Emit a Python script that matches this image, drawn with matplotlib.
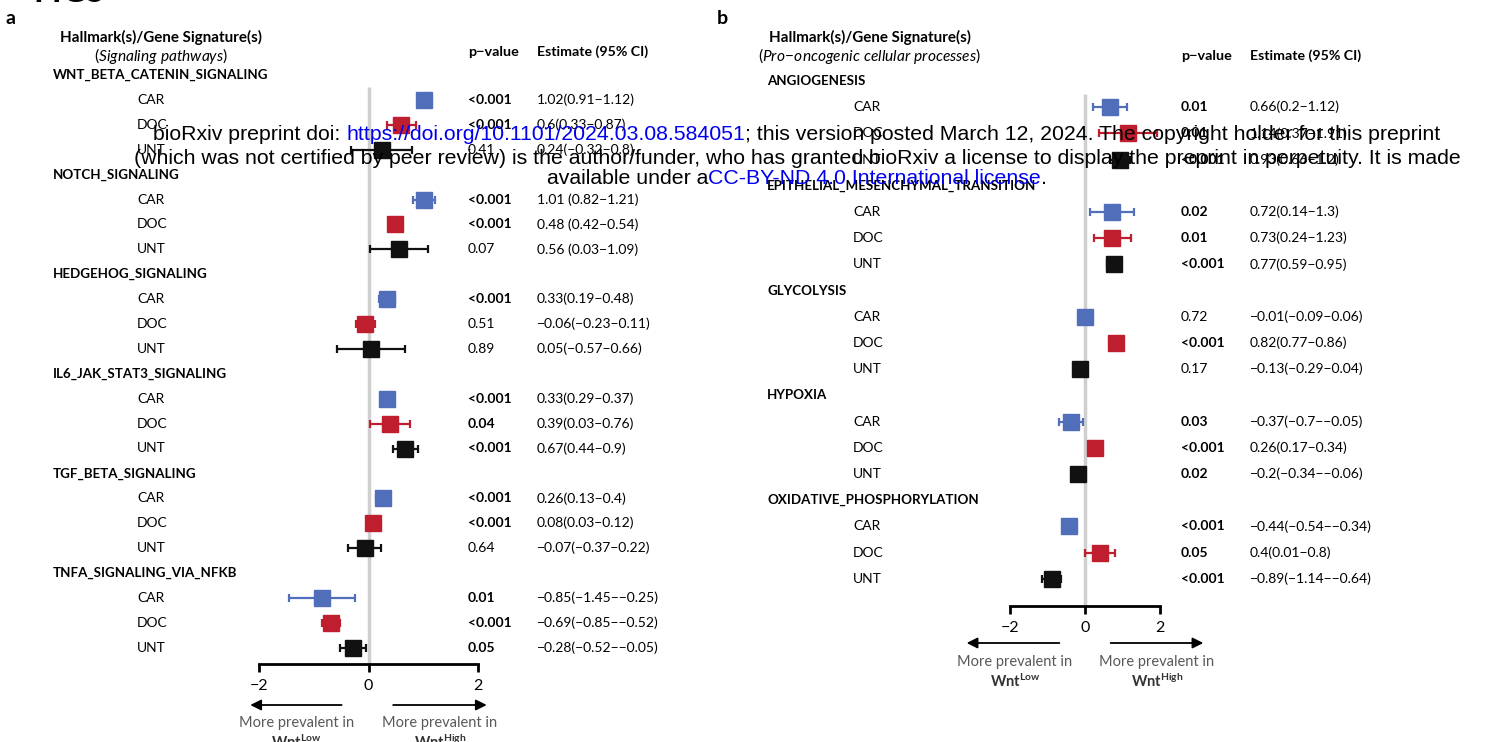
import matplotlib
matplotlib.use("Agg")
import matplotlib.pyplot as plt
from matplotlib import transforms

W, H = 1495, 742
plt.rcParams['font.family'] = ['Lato', 'DejaVu Sans']
plt.rcParams['mathtext.fontset'] = 'custom'
plt.rcParams['mathtext.rm'] = 'Lato'
plt.rcParams['mathtext.it'] = 'Lato:italic'
plt.rcParams['mathtext.bf'] = 'Lato:bold'

TREAT = ["CAR", "DOC", "UNT"]
COLORS = {"CAR": "#506EB9", "DOC": "#BE1E2D", "UNT": "#111111"}
MS = {"CAR": 11, "DOC": 11.5, "UNT": 12}

# --- panel a: signaling pathways ---
groups_a = ["WNT_BETA_CATENIN_SIGNALING", "NOTCH_SIGNALING", "HEDGEHOG_SIGNALING",
            "IL6_JAK_STAT3_SIGNALING", "TGF_BETA_SIGNALING", "TNFA_SIGNALING_VIA_NFKB"]
est_a = [1.02, 0.60, 0.24, 1.01, 0.48, 0.56, 0.33, -0.06, 0.05,
         0.33, 0.39, 0.67, 0.26, 0.08, -0.07, -0.85, -0.69, -0.28]
lo_a = [0.91, 0.33, -0.32, 0.82, 0.42, 0.03, 0.19, -0.23, -0.57,
        0.29, 0.03, 0.44, 0.13, 0.03, -0.37, -1.45, -0.85, -0.52]
hi_a = [1.12, 0.87, 0.80, 1.21, 0.54, 1.09, 0.48, 0.11, 0.66,
        0.37, 0.76, 0.90, 0.40, 0.12, 0.22, -0.25, -0.52, -0.05]
p_a = ["<0.001", "<0.001", "0.41", "<0.001", "<0.001", "0.07", "<0.001", "0.51", "0.89",
       "<0.001", "0.04", "<0.001", "<0.001", "<0.001", "0.64", "0.01", "<0.001", "0.05"]
ci_a = ["1.02(0.91\u22121.12)", "0.6(0.33\u22120.87)", "0.24(\u22120.32\u22120.8)",
        "1.01 (0.82\u22121.21)", "0.48 (0.42\u22120.54)", "0.56 (0.03\u22121.09)",
        "0.33(0.19\u22120.48)", "\u22120.06(\u22120.23\u22120.11)", "0.05(\u22120.57\u22120.66)",
        "0.33(0.29\u22120.37)", "0.39(0.03\u22120.76)", "0.67(0.44\u22120.9)",
        "0.26(0.13\u22120.4)", "0.08(0.03\u22120.12)", "\u22120.07(\u22120.37\u22120.22)",
        "\u22120.85(\u22121.45\u2212\u22120.25)", "\u22120.69(\u22120.85\u2212\u22120.52)",
        "\u22120.28(\u22120.52\u2212\u22120.05)"]

# --- panel b: pro-oncogenic cellular processes ---
groups_b = ["ANGIOGENESIS", "EPITHELIAL_MESENCHYMAL_TRANSITION", "GLYCOLYSIS",
            "HYPOXIA", "OXIDATIVE_PHOSPHORYLATION"]
est_b = [0.66, 1.14, 0.93, 0.72, 0.73, 0.77, -0.01, 0.82, -0.13,
         -0.37, 0.26, -0.20, -0.44, 0.40, -0.89]
lo_b = [0.20, 0.37, 0.66, 0.14, 0.24, 0.59, -0.09, 0.77, -0.29,
        -0.70, 0.17, -0.34, -0.54, 0.01, -1.14]
hi_b = [1.12, 1.91, 1.20, 1.30, 1.23, 0.95, 0.06, 0.86, 0.04,
        -0.05, 0.34, -0.06, -0.34, 0.80, -0.64]
p_b = ["0.01", "0.01", "<0.001", "0.02", "0.01", "<0.001", "0.72", "<0.001", "0.17",
       "0.03", "<0.001", "0.02", "<0.001", "0.05", "<0.001"]
ci_b = ["0.66(0.2\u22121.12)", "1.14(0.37\u22121.91)", "0.93(0.66\u22121.2)",
        "0.72(0.14\u22121.3)", "0.73(0.24\u22121.23)", "0.77(0.59\u22120.95)",
        "\u22120.01(\u22120.09\u22120.06)", "0.82(0.77\u22120.86)", "\u22120.13(\u22120.29\u22120.04)",
        "\u22120.37(\u22120.7\u2212\u22120.05)", "0.26(0.17\u22120.34)", "\u22120.2(\u22120.34\u2212\u22120.06)",
        "\u22120.44(\u22120.54\u2212\u22120.34)", "0.4(0.01\u22120.8)", "\u22120.89(\u22121.14\u2212\u22120.64)"]


def is_bold(p):
    return p.startswith("<") or float(p) <= 0.05


def panel(fig, groups, est, lo, hi, pv, ci, L):
    # axes span the whole height; y in "row" units, x in estimate units
    ax = fig.add_axes([L["xl"] / W, 0, (L["xr"] - L["xl"]) / W, 1])
    y0, step = L["y0"], L["step"]
    ax.set_xlim(-2, 2)
    ax.set_ylim((H - y0) / step, -y0 / step)
    ax.patch.set_visible(False)
    for s in ["top", "right", "left"]:
        ax.spines[s].set_visible(False)
    axis_row = (L["axis_y"] - y0) / step
    ax.spines["bottom"].set_position(("data", axis_row))
    ax.spines["bottom"].set_bounds(-2, 2)
    ax.spines["bottom"].set_linewidth(2)
    ax.set_xticks([-2, 0, 2])
    ax.tick_params(axis="x", length=6, width=2, labelsize=11.5, pad=5)
    ax.set_yticks([])
    bt = transforms.blended_transform_factory(fig.transFigure, ax.transData)

    ax.vlines(0, 0.5, axis_row, color="#CFCFCF", lw=2.5, zorder=1)

    for gi, g in enumerate(groups):
        hr = gi * 4
        ax.text(L["x_grp"] / W, hr, g, transform=bt, fontsize=9.6, fontweight="bold",
                va="center", ha="left")
        for ti, t in enumerate(TREAT):
            r = hr + ti + 1
            k = gi * 3 + ti
            ax.errorbar(est[k], r, xerr=[[est[k] - lo[k]], [hi[k] - est[k]]], fmt="s",
                        color=COLORS[t], ms=MS[t], capsize=3, elinewidth=1.6,
                        capthick=1.6, zorder=3, clip_on=False)
            ax.text(L["x_trt"] / W, r, t, transform=bt, fontsize=10, va="center")
            ax.text(L["x_p"] / W, r, pv[k], transform=bt, fontsize=10, va="center",
                    fontweight="bold" if is_bold(pv[k]) else "normal")
            ax.text(L["x_ci"] / W, r, ci[k], transform=bt, fontsize=10, va="center")

    # column headers (pixel rows converted to row units)
    def prow(py):
        return (py - y0) / step
    ax.text(L["x_head"] / W, prow(37), "Hallmark(s)/Gene Signature(s)", transform=bt,
            ha="center", va="center", fontsize=10.9, fontweight="bold")
    ax.text(L["x_head"] / W, prow(56), L["sub"], transform=bt, ha="center", va="center",
            fontsize=11.2)
    ax.text(L["x_p"] / W, prow(L["hdr_y"]), "p\u2212value", transform=bt, va="center",
            fontsize=10.4, fontweight="bold")
    ax.text(L["x_ci"] / W, prow(L["hdr_y"]), "Estimate (95% CI)", transform=bt,
            va="center", fontsize=10.2, fontweight="bold")

    # direction arrows and captions
    ra = prow(L["arrow_y"])
    for xi, xo in zip(L["arr_in"], L["arr_out"]):
        ax.annotate("", xy=(xo, ra), xytext=(xi, ra),
                    arrowprops=dict(arrowstyle="-|>", color="black", lw=1.3,
                                    mutation_scale=16),
                    annotation_clip=False)
    for xc, sup in zip(L["cap_x"], ["Low", "High"]):
        ax.text(xc, prow(L["cap_y"]), "More prevalent in", ha="center", va="center",
                fontsize=10.5, color="#595959", clip_on=False)
        ax.text(xc, prow(L["cap_y"] + 19), r"$\mathbf{Wnt}^{\mathbf{%s}}$" % sup,
                ha="center", va="center", fontsize=10.5, color="#333333", clip_on=False)
    return ax


fig = plt.figure(figsize=(W / 100, H / 100), dpi=100)

LA = dict(xl=259, xr=478, y0=75, step=24.9, axis_y=664, x_grp=53, x_trt=137, x_p=468,
          x_ci=537, x_head=161, hdr_y=52, sub=r"($\mathit{Signaling\ pathways}$)",
          arrow_y=705, arr_in=(-0.44, 0.40), arr_out=(-2.21, 2.21),
          cap_x=(-1.32, 1.30), cap_y=723)
LB = dict(xl=1010, xr=1160, y0=81, step=26.2, axis_y=606, x_grp=767, x_trt=853, x_p=1181,
          x_ci=1250, x_head=870, hdr_y=56,
          sub=r"($\mathit{Pro\!-\!oncogenic\ cellular\ processes}$)",
          arrow_y=643, arr_in=(-0.61, 0.61), arr_out=(-3.23, 3.23),
          cap_x=(-1.87, 1.92), cap_y=662)

panel(fig, groups_a, est_a, lo_a, hi_a, p_a, ci_a, LA)
panel(fig, groups_b, est_b, lo_b, hi_b, p_b, ci_b, LB)

fig.text(5 / W, 1 - 18 / H, "a", fontsize=14, fontweight="bold", va="center")
fig.text(717 / W, 1 - 18 / H, "b", fontsize=14, fontweight="bold", va="center")
fig.text(33 / W, 1 - 7 / H, "FIG5", fontsize=24, fontweight="bold", va="bottom")

# bioRxiv watermark overlay
renderer = fig.canvas.get_renderer()
wm_lines = [
    [("bioRxiv preprint doi: ", "black"), ("https://doi.org/10.1101/2024.03.08.584051", "#0000EE"),
     ("; this version posted March 12, 2024. The copyright holder for this preprint", "black")],
    [("(which was not certified by peer review) is the author/funder, who has granted bioRxiv "
      "a license to display the preprint in perpetuity. It is made", "black")],
    [("available under a", "black"), ("CC-BY-ND 4.0 International license", "#0000EE"),
     (".", "black")],
]
wm_y = [135, 158, 179]
for pieces, py in zip(wm_lines, wm_y):
    texts = [fig.text(0, 1 - py / H, s, color=c, fontsize=15.3, family="Liberation Sans",
                      va="center", ha="left") for s, c in pieces]
    widths = [t.get_window_extent(renderer).width for t in texts]
    x = 797 - sum(widths) / 2
    for t, w in zip(texts, widths):
        t.set_x(x / W)
        x += w

fig.savefig("out.png", dpi=100)
